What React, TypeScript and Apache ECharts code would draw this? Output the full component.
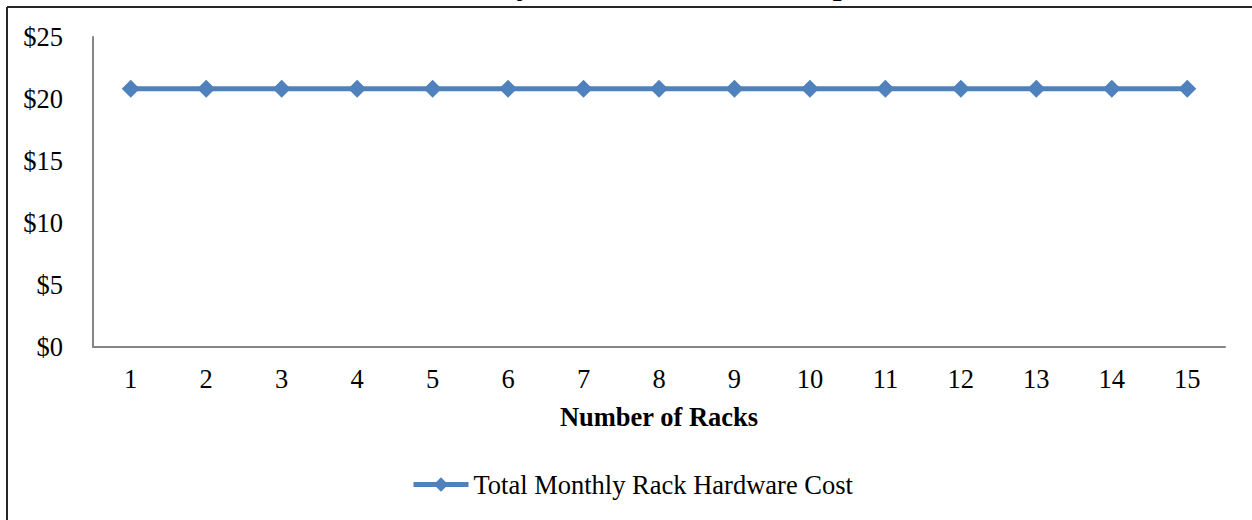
import React, { useEffect, useRef } from "react";
import * as echarts from "echarts";

const categories: string[] = ["1", "2", "3", "4", "5", "6", "7", "8", "9", "10", "11", "12", "13", "14", "15"];
const monthlyCost: number[] = [20.83, 20.83, 20.83, 20.83, 20.83, 20.83, 20.83, 20.83, 20.83, 20.83, 20.83, 20.83, 20.83, 20.83, 20.83];
const seriesName = "Total Monthly Rack Hardware Cost";
const chartTitle = "Total Monthly Rack Hardware Cost per Rack";
const xAxisName = "Number of Racks";

const FONT = "'Liberation Serif', 'Times New Roman', serif";
const FS = 26.5;

export default function App() {
  const ref = useRef<HTMLDivElement>(null);
  useEffect(() => {
    if (!ref.current) return;
    const chart = echarts.init(ref.current, undefined, { renderer: "svg" });
    chart.setOption({
      animation: false,
      backgroundColor: "#ffffff",
      grid: { left: 93, top: 37, right: 27, bottom: 173, containLabel: false },
      graphic: [
        {
          type: "text",
          x: 340,
          y: -1,
          style: {
            text: chartTitle,
            font: `bold 31.5px ${FONT}`,
            fill: "#000000",
            textAlign: "left",
            textVerticalAlign: "bottom",
          },
        },
        {
          type: "line",
          shape: { x1: 7, y1: 7, x2: 1252, y2: 7 },
          style: { stroke: "#262626", lineWidth: 2 },
        },
        {
          type: "line",
          shape: { x1: 7, y1: 7, x2: 7, y2: 520 },
          style: { stroke: "#262626", lineWidth: 2 },
        },
      ],
      legend: {
        data: [seriesName],
        top: 466,
        left: 406,
        itemWidth: 55,
        itemHeight: 18,
        lineStyle: { width: 5, color: "#4F81BD" },
        itemStyle: { color: "#4F81BD" },
        textStyle: { fontFamily: FONT, fontSize: FS, color: "#000000" },
      },
      xAxis: {
        type: "category",
        data: categories,
        boundaryGap: true,
        name: xAxisName,
        nameLocation: "middle",
        nameGap: 56,
        nameTextStyle: { fontFamily: FONT, fontSize: FS, fontWeight: "bold", color: "#000000" },
        axisLine: { lineStyle: { color: "#868686", width: 2 } },
        axisTick: { show: false },
        axisLabel: { fontFamily: FONT, fontSize: FS, color: "#000000", margin: 18 },
        splitLine: { show: false },
      },
      yAxis: {
        type: "value",
        min: 0,
        max: 25,
        interval: 5,
        axisLine: { show: true, lineStyle: { color: "#868686", width: 2 } },
        axisTick: { show: false },
        splitLine: { show: false },
        axisLabel: {
          fontFamily: FONT,
          fontSize: FS,
          color: "#000000",
          margin: 30,
          formatter: (v: number) => "$" + v,
        },
      },
      series: [
        {
          name: seriesName,
          type: "line",
          data: monthlyCost,
          symbol: "diamond",
          symbolSize: 18,
          lineStyle: { color: "#4F81BD", width: 5 },
          itemStyle: { color: "#4F81BD" },
        },
      ],
    });
    return () => chart.dispose();
  }, []);
  return (
    <div
      ref={ref}
      style={{ position: "absolute", left: 0, top: 0, width: 1252, height: 520 }}
    />
  );
}
